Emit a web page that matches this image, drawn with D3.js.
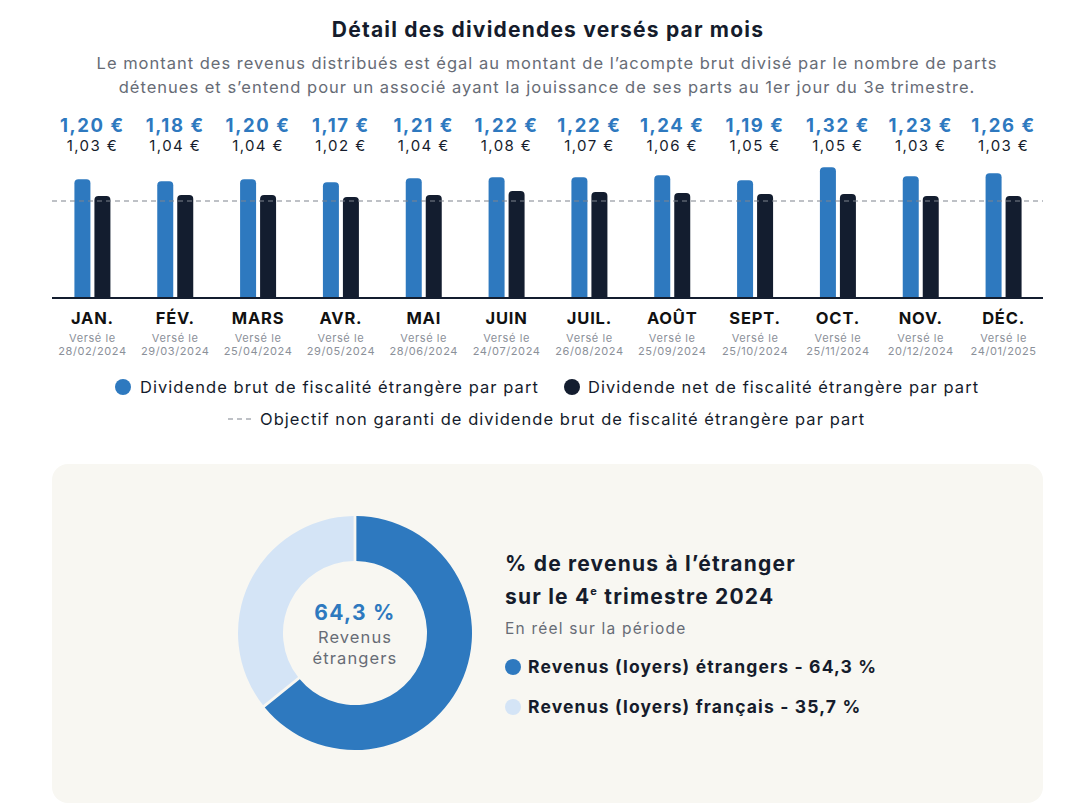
<!DOCTYPE html>
<html><head><meta charset="utf-8">
<script src="https://cdn.jsdelivr.net/npm/d3@7"></script>
<style>
html,body{margin:0;padding:0;background:#fff;}
svg text{font-family:Inter,"Noto Sans",sans-serif;}
</style></head>
<body>
<svg id="c" width="1076" height="812"></svg>
<script>
const months = ["JAN.","FÉV.","MARS","AVR.","MAI","JUIN","JUIL.","AOÛT","SEPT.","OCT.","NOV.","DÉC."];
const paidDates = ["28/02/2024","29/03/2024","25/04/2024","29/05/2024","28/06/2024","24/07/2024","26/08/2024","25/09/2024","25/10/2024","25/11/2024","20/12/2024","24/01/2025"];
const grossValues = [1.20,1.18,1.20,1.17,1.21,1.22,1.22,1.24,1.19,1.32,1.23,1.26];
const netValues = [1.03,1.04,1.04,1.02,1.04,1.08,1.07,1.06,1.05,1.05,1.03,1.03];
const objectiveValue = 0.98;
const seriesNames = ["Dividende brut de fiscalité étrangère par part","Dividende net de fiscalité étrangère par part"];
const objectiveName = "Objectif non garanti de dividende brut de fiscalité étrangère par part";
const donutLabels = ["Revenus (loyers) étrangers","Revenus (loyers) français"];
const donutValues = [64.3,35.7];

const BLUE="#2e79bf", DARK="#131d2f", LIGHT="#d4e4f6", PANEL="#f8f7f2", TXT="#151c2c", GRAY="#676c76";
const fmt = v => v.toFixed(2).replace(".", ",") + " €";
const pct = v => v.toFixed(1).replace(".", ",") + " %";

const svg = d3.select("#c");
function txt(sel, o){
  const t = sel.append("text").attr("x",o.x||0).attr("y",o.y||0)
    .attr("font-size",o.size).attr("fill",o.fill||TXT)
    .attr("letter-spacing",o.ls||0);
  if(o.anchor) t.attr("text-anchor",o.anchor);
  if(o.bold) t.attr("font-weight",700);
  if(o.text!==undefined) t.text(o.text);
  return t;
}

// Title
txt(svg,{x:548,y:37,anchor:"middle",size:21,bold:true,ls:1.2,text:"Détail des dividendes versés par mois"});
txt(svg,{x:547,y:69,anchor:"middle",size:16.5,ls:1.0,fill:GRAY,text:"Le montant des revenus distribués est égal au montant de l’acompte brut divisé par le nombre de parts"});
txt(svg,{x:547,y:93,anchor:"middle",size:16.5,ls:1.0,fill:GRAY,text:"détenues et s’entend pour un associé ayant la jouissance de ses parts au 1er jour du 3e trimestre."});

// Scales
const x = d3.scaleBand().domain(months).range([51,1045]).paddingInner(0);
const sub = d3.scaleBand().domain([0,1]).range([x.bandwidth()/2-18, x.bandwidth()/2+18]).paddingInner(0.2).paddingOuter(0);
const y = d3.scaleLinear().domain([0,1.4]).range([298, 298-1.4*99]);

function topRounded(x0,y0,w,h,r){
  r=Math.min(r,h);
  return `M${x0},${y0+h}V${y0+r}Q${x0},${y0} ${x0+r},${y0}H${x0+w-r}Q${x0+w},${y0} ${x0+w},${y0+r}V${y0+h}Z`;
}

const g = svg.append("g");
const groups = g.selectAll("g.m").data(months).join("g").attr("class","m")
  .attr("transform",d=>`translate(${x(d)},0)`);

groups.each(function(m,i){
  const gg=d3.select(this);
  [grossValues[i],netValues[i]].forEach((v,k)=>{
    gg.append("path").attr("d",topRounded(sub(k),y(v),sub.bandwidth(),y(0)-y(v),4))
      .attr("fill",k===0?BLUE:DARK);
  });
  const cx=x.bandwidth()/2;
  txt(gg,{x:cx,y:132,anchor:"middle",size:18.5,bold:true,ls:1.6,fill:BLUE,text:fmt(grossValues[i])});
  txt(gg,{x:cx,y:151,anchor:"middle",size:15,ls:1.4,fill:TXT,text:fmt(netValues[i])});
  txt(gg,{x:cx,y:324,anchor:"middle",size:16.5,bold:true,ls:0.8,fill:"#111",text:m});
  txt(gg,{x:cx,y:342,anchor:"middle",size:11,ls:0.6,fill:"#8b9099",text:"Versé le"});
  txt(gg,{x:cx,y:355,anchor:"middle",size:11,ls:0.6,fill:"#8b9099",text:paidDates[i]});
});

// objective dashed line
g.append("line").attr("x1",52).attr("x2",1043).attr("y1",y(objectiveValue)).attr("y2",y(objectiveValue))
  .attr("stroke","#7f848d").attr("stroke-width",1.2).attr("stroke-dasharray","5,4");
// baseline
g.append("line").attr("x1",52).attr("x2",1043).attr("y1",y(0)).attr("y2",y(0))
  .attr("stroke",DARK).attr("stroke-width",2);

// Legend
const lg = svg.append("g");
lg.append("circle").attr("cx",123).attr("cy",387).attr("r",8).attr("fill",BLUE);
txt(lg,{x:140,y:393,size:16.5,ls:1.05,text:seriesNames[0]});
lg.append("circle").attr("cx",572).attr("cy",387).attr("r",8).attr("fill",DARK);
txt(lg,{x:588,y:393,size:16.5,ls:1.05,text:seriesNames[1]});
lg.append("line").attr("x1",228).attr("x2",251).attr("y1",419).attr("y2",419)
  .attr("stroke","#7f848d").attr("stroke-width",1.2).attr("stroke-dasharray","5,4");
txt(lg,{x:260,y:425,size:16.5,ls:1.05,text:objectiveName});

// Panel
svg.append("rect").attr("x",52).attr("y",464).attr("width",991).attr("height",339).attr("rx",16).attr("fill",PANEL);

// Donut
const pie = d3.pie().sort(null).value(d=>d).padAngle(0.02);
const arc = d3.arc().innerRadius(72).outerRadius(117);
const dg = svg.append("g").attr("transform","translate(355,633)");
dg.selectAll("path").data(pie(donutValues)).join("path").attr("d",arc)
  .attr("fill",(d,i)=>i===0?BLUE:LIGHT);
txt(dg,{y:-13,anchor:"middle",size:21,bold:true,ls:1.3,fill:BLUE,text:pct(donutValues[0])});
txt(dg,{y:10,anchor:"middle",size:16.5,ls:1.1,fill:GRAY,text:"Revenus"});
txt(dg,{y:31,anchor:"middle",size:16.5,ls:1.1,fill:GRAY,text:"étrangers"});

// Right side text
const rt = svg.append("g");
txt(rt,{x:505,y:571,size:21,bold:true,ls:1.2,text:"% de revenus à l’étranger"});
const t2 = txt(rt,{x:505,y:604,size:21,bold:true,ls:1.2});
t2.append("tspan").text("sur le 4");
t2.append("tspan").attr("font-size",11).attr("dy",-9).text("e");
t2.append("tspan").attr("dy",9).text(" trimestre 2024");
txt(rt,{x:505,y:634,size:15.5,ls:1.2,fill:GRAY,text:"En réel sur la période"});
donutLabels.forEach((l,i)=>{
  rt.append("circle").attr("cx",513).attr("cy",667+i*40).attr("r",8).attr("fill",i===0?BLUE:LIGHT);
  txt(rt,{x:528,y:673+i*40,size:17.5,bold:true,ls:1.15,text:l+" - "+pct(donutValues[i])});
});
</script>
</body></html>
